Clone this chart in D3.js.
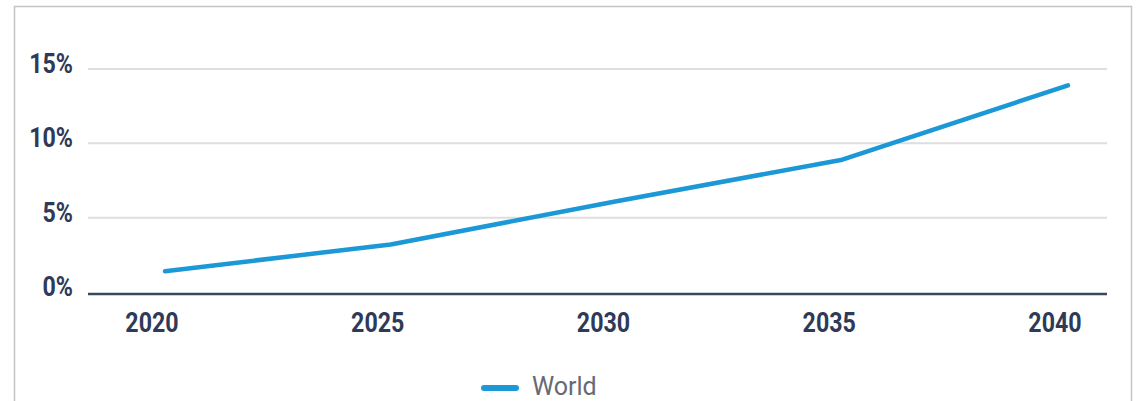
<!DOCTYPE html>
<html lang="en">
<head>
  <meta charset="UTF-8">
  <title>World</title>
  <script src="https://d3js.org/d3.v7.min.js"></script>
  <style>
    body { margin: 0; background: #fff; font-family: Roboto, sans-serif; }
    .tick-label { font-weight: bold; fill: #2e3a57; font-size: 27px; }
    .grid { stroke: #dedede; stroke-width: 2; }
    .line { fill: none; stroke: #1b98d5; stroke-width: 4.5; stroke-linejoin: round; stroke-linecap: round; }
  </style>
</head>
<body>
  <svg width="1139" height="401"></svg>
  <script>
    const years = [2020, 2025, 2030, 2035, 2040];
    const world = [1.4, 3.2, 6.1, 8.9, 13.9];
    const yTicks = [0, 5, 10, 15];

    const svg = d3.select("svg");
    const squeeze = 0.86; // labels in the original look condensed

    // frame
    svg.append("rect")
      .attr("x", 14.5).attr("y", 6.5)
      .attr("width", 1117).attr("height", 420)
      .attr("fill", "none").attr("stroke", "#c4c4c4").attr("stroke-width", 1.5);

    const x = d3.scaleLinear().domain([2020, 2040]).range([165, 1068]);
    const y = d3.scaleLinear().domain([0, 15]).range([292, 69]);

    // gridlines
    svg.append("g").selectAll("line")
      .data(yTicks.filter(d => d > 0))
      .enter().append("line")
      .attr("class", "grid")
      .attr("x1", 88).attr("x2", 1107)
      .attr("y1", d => y(d)).attr("y2", d => y(d));

    // baseline
    svg.append("line")
      .attr("x1", 88).attr("x2", 1107)
      .attr("y1", y(0) + 2).attr("y2", y(0) + 2)
      .attr("stroke", "#3b4763").attr("stroke-width", 2.5);

    // y labels
    svg.append("g").selectAll("text")
      .data(yTicks)
      .enter().append("text")
      .attr("class", "tick-label")
      .attr("transform", d => `translate(73,${y(d) + 4}) scale(${squeeze},1)`)
      .attr("text-anchor", "end")
      .text(d => d + "%");

    // x labels
    svg.append("g").selectAll("text")
      .data(years)
      .enter().append("text")
      .attr("class", "tick-label")
      .attr("transform", d => `translate(${x(d) - 13},332) scale(${squeeze},1)`)
      .attr("text-anchor", "middle")
      .text(d => d);

    const line = d3.line()
      .x((d, i) => x(years[i]))
      .y(d => y(d));

    svg.append("path")
      .datum(world)
      .attr("class", "line")
      .attr("d", line);

    // legend
    svg.append("line")
      .attr("x1", 484).attr("x2", 516)
      .attr("y1", 388).attr("y2", 388)
      .attr("stroke", "#1b98d5").attr("stroke-width", 6).attr("stroke-linecap", "round");
    svg.append("text")
      .attr("x", 532).attr("y", 395)
      .style("font-size", "25px").style("fill", "#666a75")
      .text("World");
  </script>
</body>
</html>
